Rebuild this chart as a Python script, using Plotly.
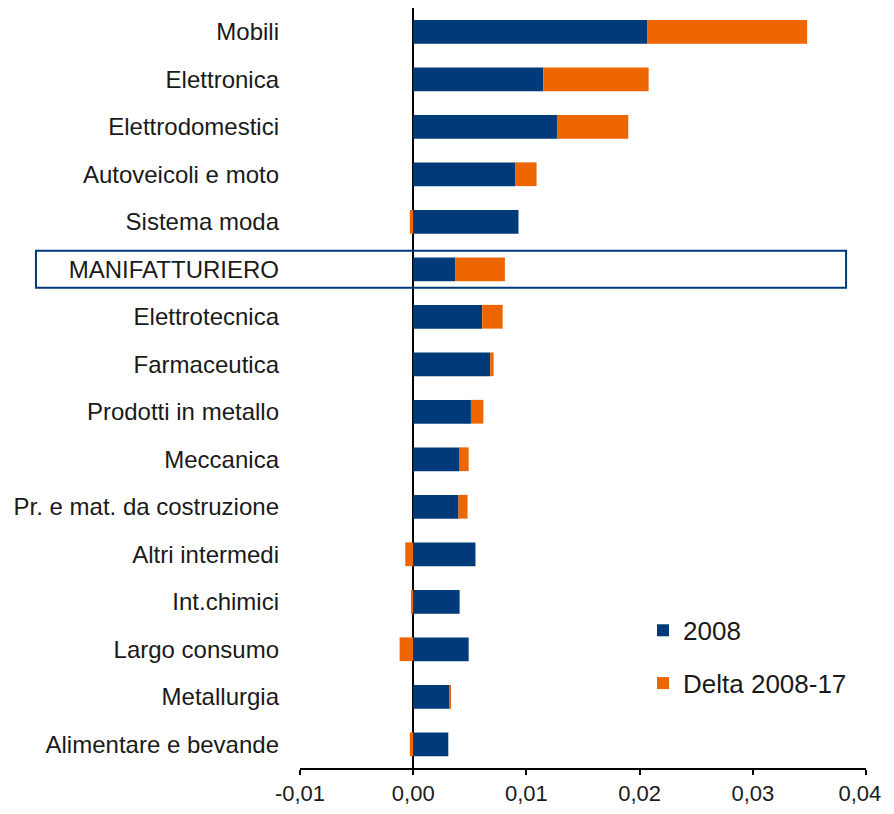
import plotly.graph_objects as go

categories = ["Mobili", "Elettronica", "Elettrodomestici", "Autoveicoli e moto",
              "Sistema moda", "MANIFATTURIERO", "Elettrotecnica", "Farmaceutica",
              "Prodotti in metallo", "Meccanica", "Pr. e mat. da costruzione",
              "Altri intermedi", "Int.chimici", "Largo consumo", "Metallurgia",
              "Alimentare e bevande"]

val_2008 = [0.0207, 0.0115, 0.0127, 0.0090, 0.0093, 0.0037, 0.0061, 0.0068,
            0.0051, 0.0041, 0.0040, 0.0055, 0.0041, 0.0049, 0.0032, 0.0031]

delta_2008_17 = [0.0141, 0.0093, 0.0063, 0.0019, -0.0003, 0.0044, 0.0018, 0.0003,
                 0.0011, 0.0008, 0.0008, -0.0007, -0.0002, -0.0012, 0.0001, -0.0003]

x_ticks = [-0.01, 0.0, 0.01, 0.02, 0.03, 0.04]
# trailing no-break spaces nudge the last label inward so it is not clipped
x_tick_labels = ["-0,01", "0,00", "0,01", "0,02", "0,03", "0,04\u00a0\u00a0"]

BLUE = "#003A78"
ORANGE = "#EE6600"
FONT = "Liberation Sans, Arial, sans-serif"

fig = go.Figure()
fig.add_trace(go.Bar(y=categories, x=val_2008, name="2008", orientation="h",
                     marker=dict(color=BLUE, line=dict(width=0)),
                     legendgroup="a"))
fig.add_trace(go.Bar(y=categories, x=delta_2008_17, name="Delta 2008-17", orientation="h",
                     marker=dict(color=ORANGE, line=dict(width=0)),
                     legendgroup="b"))

# box around the manufacturing total
idx = categories.index("MANIFATTURIERO")
fig.add_shape(type="rect", xref="paper", yref="y",
              x0=-0.4665, x1=0.9648, y0=idx - 0.39, y1=idx + 0.39,
              line=dict(color=BLUE, width=2), fillcolor="rgba(0,0,0,0)")

# page body has an 8px margin: keep the figure inside the window
fig.update_layout(
    width=886, height=798,
    margin=dict(l=292, r=26, t=0, b=35),
    barmode="relative",
    bargap=0.5,
    plot_bgcolor="white",
    paper_bgcolor="white",
    font=dict(family=FONT, size=24, color="#1a1a1a"),
    xaxis=dict(range=[-0.01, 0.04], tickvals=x_ticks, ticktext=x_tick_labels,
               showgrid=False, zeroline=True, zerolinecolor="black", zerolinewidth=2,
               showline=True, linecolor="black", linewidth=2,
               ticks="outside", ticklen=5, tickwidth=2, tickcolor="black",
               ticklabeloverflow="allow", tickfont=dict(size=22)),
    yaxis=dict(autorange="reversed", showgrid=False, showline=False,
               ticks="", ticklabelstandoff=20, tickfont=dict(size=24)),
    legend=dict(x=0.606, y=0.212, xanchor="left", yanchor="top",
                font=dict(size=26, color="#1a1a1a"),
                traceorder="grouped", tracegroupgap=16,
                bgcolor="rgba(0,0,0,0)"),
)

fig.write_html("out.html")
